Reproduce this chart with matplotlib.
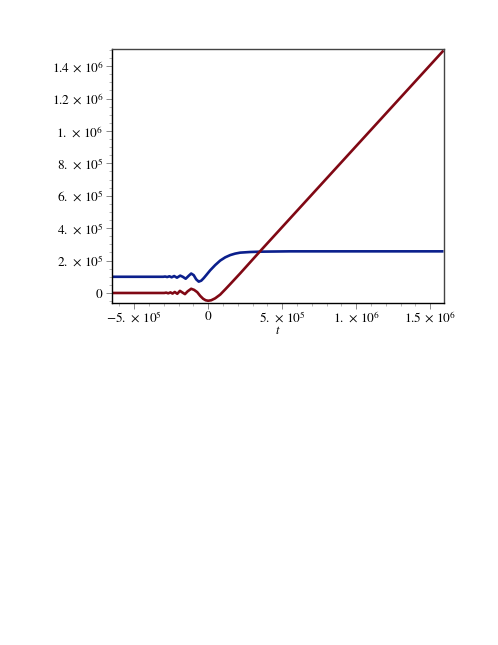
import matplotlib
matplotlib.use("Agg")
import matplotlib.pyplot as plt
from matplotlib.ticker import FixedLocator, MultipleLocator

# === Data ===
t_blue = [-6.5e5, -3.04e5, -2.91e5, -2.77e5, -2.62e5, -2.47e5, -2.30e5, -2.11e5,
          -1.89e5, -1.72e5, -1.52e5, -1.33e5, -1.15e5, -9.8e4, -8.1e4, -6.4e4,
          -4.7e4, -3.0e4, -1.35e4, 1.35e4, 4.7e4, 8.1e4, 1.15e5, 1.49e5, 1.82e5,
          2.16e5, 2.84e5, 3.51e5, 5.5e5, 1.59e6]
y_blue = [1.0e5, 1.0e5, 1.015e5, 9.85e4, 1.03e5, 9.7e4, 1.045e5, 9.45e4,
          1.07e5, 1.0e5, 8.8e4, 1.05e5, 1.2e5, 1.1e5, 8.4e4, 7.0e4,
          7.6e4, 9.2e4, 1.1e5, 1.4e5, 1.72e5, 2.0e5, 2.2e5, 2.34e5, 2.43e5,
          2.49e5, 2.53e5, 2.55e5, 2.57e5, 2.57e5]

t_red = [-6.5e5, -2.97e5, -2.84e5, -2.70e5, -2.55e5, -2.41e5, -2.26e5, -2.09e5,
         -1.91e5, -1.76e5, -1.57e5, -1.39e5, -1.15e5, -9.5e4, -7.4e4, -5.4e4,
         -3.4e4, -1.7e4, 0.0, 2.0e4, 4.7e4, 8.1e4, 1.15e5, 1.49e5, 2.16e5,
         2.84e5, 3.51e5, 1.59e6]
y_red = [0.0, 0.0, 2e3, -2e3, 3.5e3, -3.5e3, 6e3, -5e3,
         1.3e4, 4e3, -7e3, 1.0e4, 2.6e4, 1.9e4, 5e3, -1.8e4,
         -3.6e4, -4.5e4, -4.8e4, -4.5e4, -3.3e4, -1.0e4, 2.2e4, 5.5e4, 1.21e5,
         1.9e5, 2.58e5, 1.497e6]

x_ticks = [-5e5, 0, 5e5, 1e6, 1.5e6]
x_labels = [r"$-5.\,\times\,10^{5}$", r"$0$", r"$5.\,\times\,10^{5}$",
            r"$1.\,\times\,10^{6}$", r"$1.5\,\times\,10^{6}$"]
y_ticks = [0, 2e5, 4e5, 6e5, 8e5, 1e6, 1.2e6, 1.4e6]
y_labels = [r"$0$", r"$2.\,\times\,10^{5}$", r"$4.\,\times\,10^{5}$",
            r"$6.\,\times\,10^{5}$", r"$8.\,\times\,10^{5}$",
            r"$1.\,\times\,10^{6}$", r"$1.2\,\times\,10^{6}$",
            r"$1.4\,\times\,10^{6}$"]

# === Style ===
plt.rcParams["font.family"] = ["Liberation Serif", "DejaVu Serif"]
plt.rcParams["mathtext.fontset"] = "stix"

fig = plt.figure(figsize=(4.98, 6.45), dpi=100)
ax = fig.add_axes([0.2249, 0.5302, 0.6657, 0.3938])

ax.plot(t_blue, y_blue, color="#0b1f8c", lw=1.9, solid_capstyle="butt")
ax.plot(t_red, y_red, color="#800814", lw=1.9, solid_capstyle="butt")

ax.set_xlim(-6.5e5, 1.59e6)
ax.set_ylim(-6.2e4, 1.506e6)

ax.xaxis.set_major_locator(FixedLocator(x_ticks))
ax.set_xticklabels(x_labels)
ax.yaxis.set_major_locator(FixedLocator(y_ticks))
ax.set_yticklabels(y_labels)
ax.xaxis.set_minor_locator(MultipleLocator(1e5))
ax.yaxis.set_minor_locator(MultipleLocator(5e4))

ax.tick_params(which="major", direction="out", length=4, width=0.6,
               color="#777777", labelsize=9.5, pad=2)
ax.tick_params(axis="x", which="major", pad=1)
ax.tick_params(which="minor", direction="out", length=2, width=0.5,
               color="#999999")

for side in ["left", "bottom"]:
    ax.spines[side].set_color("black")
    ax.spines[side].set_linewidth(1.0)
for side in ["top", "right"]:
    ax.spines[side].set_color("#444444")
    ax.spines[side].set_linewidth(1.0)

ax.set_xlabel(r"$t$", fontsize=9, labelpad=0)

fig.savefig("out.png", dpi=100)
